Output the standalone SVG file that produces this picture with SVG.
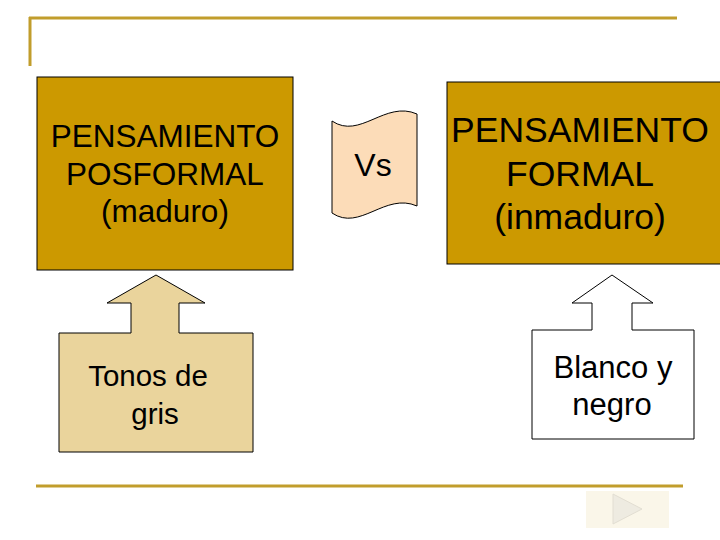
<svg xmlns="http://www.w3.org/2000/svg" width="720" height="540" viewBox="0 0 720 540">
<style>
.rule{stroke:#C19D2C;stroke-width:3;fill:none}
.gold{fill:#CC9900;stroke:#000;stroke-width:1}
.t{font-family:"Liberation Sans",Arial,sans-serif;fill:#000;text-anchor:middle}
</style>
<rect width="720" height="540" fill="#fff"/>
<g id="frame">
<path class="rule" d="M29,18 H677 M30,17 V66"/>
<path class="rule" d="M36,486 H683"/>
</g>
<g id="posformal">
<rect class="gold" x="37" y="77" width="256" height="193"/>
<text class="t" font-size="31.5" x="165" y="147">PENSAMIENTO</text>
<text class="t" font-size="31.5" x="165" y="185">POSFORMAL</text>
<text class="t" font-size="31.5" x="165" y="222">(maduro)</text>
</g>
<g id="vs">
<path d="M332,121 C360,140 385,100 417,114 L417,206 C385,192 360,232 332,213 Z" fill="#FCDCB8" stroke="#000" stroke-width="1"/>
<text class="t" font-size="32" x="373" y="176">Vs</text>
</g>
<g id="formal">
<rect class="gold" x="447" y="82" width="280" height="182"/>
<text class="t" font-size="35.5" x="580" y="142">PENSAMIENTO</text>
<text class="t" font-size="35.5" x="580" y="186">FORMAL</text>
<text class="t" font-size="35.5" x="580" y="229">(inmaduro)</text>
</g>
<g id="grises">
<path d="M59,333 L131,333 L131,303 L107,303 L156,275 L205,303 L179,303 L179,333 L253,333 L253,452 L59,452 Z" fill="#EAD49C" stroke="#000" stroke-width="1"/>
<text class="t" font-size="29.5" x="148" y="386">Tonos de</text>
<text class="t" font-size="29.5" x="155" y="424">gris</text>
</g>
<g id="blanconegro">
<path d="M532,330 L592,330 L592,303 L572,303 L612,275 L653,303 L632,303 L632,330 L694,330 L694,439 L532,439 Z" fill="#fff" stroke="#000" stroke-width="1"/>
<text class="t" font-size="31" x="613" y="378">Blanco y</text>
<text class="t" font-size="31" x="612" y="415">negro</text>
</g>
<g id="nav">
<rect x="586" y="491" width="83" height="37" fill="#FAF6E9"/>
<path d="M613,494 L642,509 L613,524 Z" fill="#EEEBE1" stroke="#E2DED2" stroke-width="1"/>
</g>
<g id="connectors"></g>
</svg>
